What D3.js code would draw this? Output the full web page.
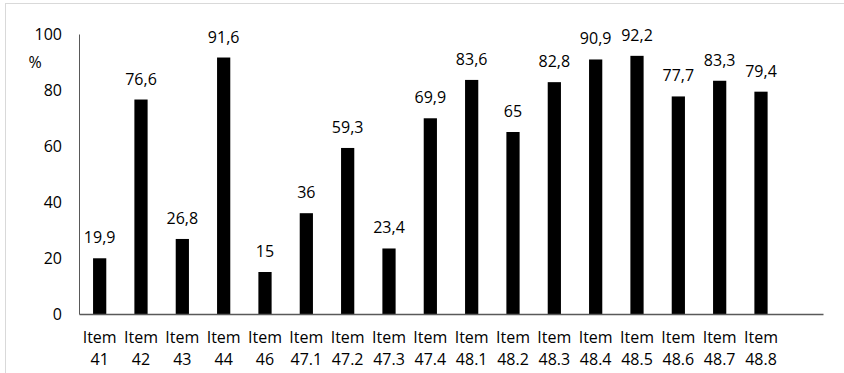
<!DOCTYPE html>
<html>
<head>
<meta charset="utf-8">
<script src="https://cdn.jsdelivr.net/npm/d3@7"></script>
<style>
  body { margin: 0; background: #fff; }
  svg { display: block; font-family: "Open Sans", Lato, sans-serif; }
  .tick text { font-size: 16px; fill: #000; font-family: "Open Sans", sans-serif; }
</style>
</head>
<body>
<svg></svg>
<script>
const categories = ["41", "42", "43", "44", "46", "47.1", "47.2", "47.3", "47.4",
  "48.1", "48.2", "48.3", "48.4", "48.5", "48.6", "48.7", "48.8"];
const values = [19.9, 76.6, 26.8, 91.6, 15, 36, 59.3, 23.4, 69.9,
  83.6, 65, 82.8, 90.9, 92.2, 77.7, 83.3, 79.4];
const yTicks = [0, 20, 40, 60, 80, 100];
const yAxisLabel = "%";

const width = 844;
const height = 373;
const svg = d3.select("svg").attr("width", width).attr("height", height);

// chart area border (light gray, runs off the right/bottom edge)
svg.append("rect")
  .attr("x", 5.5).attr("y", 3.5)
  .attr("width", width + 20).attr("height", height + 20)
  .attr("fill", "none").attr("stroke", "#d9d9d9");

const margin = { left: 79, right: 21, top: 34, bottom: 59 };
const graphWidth = width - margin.left - margin.right;
const graphHeight = height - margin.top - margin.bottom;

const g = svg.append("g").attr("transform", `translate(${margin.left}, ${margin.top})`);

// one empty slot at the end, like the source chart
const xScale = d3.scaleBand()
  .domain([...categories, ""])
  .range([0, graphWidth])
  .paddingInner(0.68)
  .paddingOuter(0.34);

const yScale = d3.scaleLinear().domain([0, 100]).range([graphHeight, 0]);

// y axis
const yAxisG = g.append("g").call(d3.axisLeft(yScale).tickValues(yTicks).tickSize(0).tickPadding(17));
yAxisG.select(".domain").attr("stroke", "#595959");

g.append("text")
  .attr("x", -44).attr("y", yScale(90))
  .attr("text-anchor", "middle").attr("dy", "0.35em")
  .style("font-size", "16px")
  .text(yAxisLabel);

// bars
g.selectAll(".bar")
  .data(values)
  .join("rect")
  .attr("class", "bar")
  .attr("x", (d, i) => xScale(categories[i]))
  .attr("y", (d) => yScale(d))
  .attr("width", xScale.bandwidth())
  .attr("height", (d) => graphHeight - yScale(d))
  .attr("fill", "#000");

// value labels
g.selectAll(".val")
  .data(values)
  .join("text")
  .attr("class", "val")
  .attr("x", (d, i) => xScale(categories[i]) + xScale.bandwidth() / 2)
  .attr("y", (d) => yScale(d) - 15)
  .attr("text-anchor", "middle")
  .style("font-size", "16px")
  .text((d) => String(d).replace(".", ","));

// x axis
const xAxisG = g.append("g")
  .attr("transform", `translate(0, ${graphHeight})`)
  .call(d3.axisBottom(xScale).tickSize(0).tickFormat(""));
xAxisG.select(".domain").attr("stroke", "#595959").attr("stroke-width", 1.5);

const xl = g.selectAll(".xlab")
  .data(categories)
  .join("text")
  .attr("class", "xlab")
  .attr("x", (d) => xScale(d) + xScale.bandwidth() / 2)
  .attr("y", graphHeight + 29)
  .attr("text-anchor", "middle")
  .style("font-size", "16px");
xl.append("tspan").attr("x", (d) => xScale(d) + xScale.bandwidth() / 2).text("Item");
xl.append("tspan").attr("x", (d) => xScale(d) + xScale.bandwidth() / 2).attr("dy", 22).text((d) => d);
</script>
</body>
</html>
